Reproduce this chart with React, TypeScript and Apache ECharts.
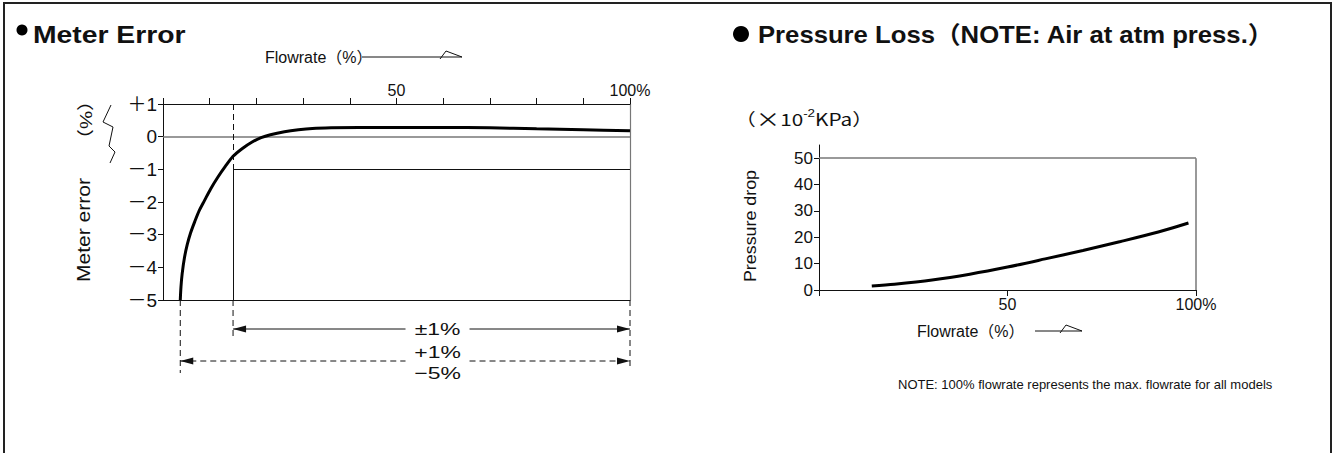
import React, { useEffect, useRef } from "react";
import * as echarts from "echarts";

const FONT = '"Liberation Sans", Arial, "Noto Sans CJK JP", sans-serif';
const CJK = '"Noto Sans CJK JP", "Liberation Sans", sans-serif';

// ---- Meter error chart data ----
const errFlow = [3.7, 3.85, 4.1, 4.6, 5.2, 5.9, 6.8, 7.8, 8.9, 10.2, 11.7, 13.3, 15, 17, 19, 21, 23, 26, 29, 32, 36, 42, 50, 60, 70, 80, 90, 100];
const errValue = [-5, -4.6, -4.2, -3.7, -3.3, -2.95, -2.6, -2.25, -1.95, -1.6, -1.25, -0.92, -0.6, -0.36, -0.17, -0.03, 0.06, 0.15, 0.21, 0.25, 0.27, 0.28, 0.28, 0.28, 0.27, 0.24, 0.21, 0.18];
const errYTicks = [1, 0, -1, -2, -3, -4, -5];
const errYLabels = ["＋1", "0", "－1", "－2", "－3", "－4", "－5"];
const errXTickValues = [50, 100];
const errXTickLabels = ["50", "100%"];
const accuracyStart = 15; // flowrate % where ±1% band begins
const accuracyLimit = -1;
const fullRangeStart = errFlow[0];
const fullRangeEnd = 100;
const dimLabels = ["±1%", "+1%", "−5%"];

// ---- Pressure loss chart data ----
const presFlow = [14, 20, 30, 40, 50, 60, 70, 80, 90, 98];
const presValue = [1.5, 2.2, 3.8, 6.0, 8.7, 11.8, 15.0, 18.4, 22.0, 25.4];
const presYTicks = [0, 10, 20, 30, 40, 50];
const presXTickValues = [50, 100];
const presXTickLabels = ["50", "100%"];
const presTop = 50;

const txt = (text: string, x: number, y: number, extra: any = {}) => {
  const { rotation, scaleX, ...style } = extra;
  return {
    type: "text",
    x,
    y,
    silent: true,
    rotation: rotation || 0,
    scaleX: scaleX || 1,
    style: {
      text,
      x: 0,
      y: 0,
      fill: "#111",
      fontFamily: FONT,
      fontSize: 16,
      verticalAlign: "middle",
      align: "left",
      ...style,
    },
  };
};

const seg = (x1: number, y1: number, x2: number, y2: number, dash?: number[], w = 1, color = "#111") => ({
  type: "line",
  silent: true,
  shape: { x1, y1, x2, y2 },
  style: { stroke: color, lineWidth: w, lineDash: dash || null },
});

const head = (tipX: number, y: number, dir: number) => ({
  type: "polygon",
  silent: true,
  shape: { points: [[tipX, y], [tipX + dir * 13, y - 3.5], [tipX + dir * 13, y + 3.5]] },
  style: { fill: "#111" },
});

const flowArrow = (x1: number, x2: number, y: number) => [
  seg(x1, y, x2, y, undefined, 1),
  {
    type: "polyline",
    silent: true,
    shape: { points: [[x2 - 22, y + 2], [x2 - 16, y - 6], [x2, y]] },
    style: { stroke: "#111", lineWidth: 1, fill: null },
  },
];

const axisTextStyle = { color: "#111", fontFamily: FONT, fontSize: 16 };

export default function App() {
  const ref = useRef<HTMLDivElement>(null);

  useEffect(() => {
    const chart = echarts.init(ref.current!, null, { renderer: "svg" });
    const option: any = {
      animation: false,
      backgroundColor: "#fff",
      grid: [
        { left: 163, top: 104, width: 467, height: 196 },
        { left: 819, top: 145, width: 377, height: 145 },
      ],
      xAxis: [
        {
          type: "value", gridIndex: 0, position: "top", min: 0, max: 100, interval: 10,
          axisLine: { show: true, onZero: false, lineStyle: { color: "#111", width: 1 } },
          axisTick: { show: true, length: 6, lineStyle: { color: "#111" } },
          axisLabel: {
            ...axisTextStyle, margin: 6,
            customValues: errXTickValues,
            formatter: (v: number) => errXTickLabels[errXTickValues.indexOf(v)] ?? "",
          },
          splitLine: { show: false },
        },
        {
          type: "value", gridIndex: 0, position: "bottom", min: 0, max: 100,
          axisLine: { show: true, onZero: false, lineStyle: { color: "#111", width: 1 } },
          axisTick: { show: false }, axisLabel: { show: false }, splitLine: { show: false },
        },
        {
          type: "value", gridIndex: 1, position: "bottom", min: 0, max: 100, interval: 50,
          axisLine: { show: true, onZero: false, lineStyle: { color: "#111", width: 1 } },
          axisTick: { show: true, length: 6, lineStyle: { color: "#111" } },
          axisLabel: {
            ...axisTextStyle, margin: 6,
            customValues: presXTickValues,
            formatter: (v: number) => presXTickLabels[presXTickValues.indexOf(v)] ?? "",
          },
          splitLine: { show: false },
        },
      ],
      yAxis: [
        {
          type: "value", gridIndex: 0, min: -5, max: 1, interval: 1,
          axisLine: { show: true, onZero: false, lineStyle: { color: "#111", width: 1 } },
          axisTick: { show: true, length: 5, lineStyle: { color: "#111" } },
          axisLabel: {
            ...axisTextStyle, fontSize: 19, margin: 6,
            formatter: (v: number) => errYLabels[errYTicks.indexOf(v)] ?? "",
          },
          splitLine: { show: false },
        },
        {
          type: "value", gridIndex: 0, position: "right", min: -5, max: 1,
          axisLine: { show: true, onZero: false, lineStyle: { color: "#777", width: 1.2 } },
          axisTick: { show: false }, axisLabel: { show: false }, splitLine: { show: false },
        },
        {
          type: "value", gridIndex: 1, min: 0, max: 55, interval: 10,
          axisLine: { show: true, onZero: false, lineStyle: { color: "#111", width: 1 } },
          axisTick: { show: true, length: 5, customValues: presYTicks, lineStyle: { color: "#111" } },
          axisLabel: {
            ...axisTextStyle, fontSize: 17, margin: 6, customValues: presYTicks,
            formatter: (v: number) => (presYTicks.indexOf(v) >= 0 ? String(v) : ""),
          },
          splitLine: { show: false },
        },
      ],
      series: [
        {
          type: "line", xAxisIndex: 0, yAxisIndex: 0, symbol: "none", smooth: 0.3,
          data: errFlow.map((f, i) => [f, errValue[i]]),
          lineStyle: { color: "#000", width: 3 },
          z: 5,
          markLine: {
            silent: true, symbol: "none", label: { show: false },
            lineStyle: { color: "#111", width: 1, type: "solid" },
            data: [
              { yAxis: 0, lineStyle: { color: "#777", width: 1.5, type: "solid" } },
              [{ coord: [accuracyStart, accuracyLimit] }, { coord: [100, accuracyLimit] }],
              [{ coord: [accuracyStart, accuracyLimit] }, { coord: [accuracyStart, -5] }],
              [
                { coord: [accuracyStart, 1], lineStyle: { type: [6, 4], color: "#111", width: 1 } },
                { coord: [accuracyStart, accuracyLimit] },
              ],
            ],
          },
        },
        {
          type: "line", xAxisIndex: 2, yAxisIndex: 2, symbol: "none", smooth: 0.3,
          data: presFlow.map((f, i) => [f, presValue[i]]),
          lineStyle: { color: "#000", width: 3 },
          markLine: {
            silent: true, symbol: "none", label: { show: false },
            lineStyle: { color: "#777", width: 1.5, type: "solid" },
            data: [
              { yAxis: presTop },
              [{ coord: [100, 0] }, { coord: [100, presTop] }],
            ],
          },
        },
      ],
    };
    chart.setOption(option);

    const p = (s: number, x: number, y: number) => chart.convertToPixel({ seriesIndex: s }, [x, y]) as number[];
    const [xStart, yBottom] = p(0, fullRangeStart, -5);
    const [xAcc] = p(0, accuracyStart, -5);
    const [xEnd] = p(0, fullRangeEnd, -5);
    const yArrow1 = yBottom + 29;
    const yArrow2 = yBottom + 61;
    const mid = (xAcc + xEnd) / 2 + 6;
    const gap = 32;
    const dimStyle = { align: "center", fontSize: 17, scaleX: 1.35 };

    const elements: any[] = [
      { type: "rect", silent: true, shape: { x: 4, y: 3, width: 1327, height: 480 }, style: { fill: null, stroke: "#222", lineWidth: 2 } },
      // titles
      { type: "circle", silent: true, shape: { cx: 22, cy: 30, r: 5.5 }, style: { fill: "#000" } },
      txt("Meter Error", 33, 35, { fontSize: 24, fontWeight: "bold", scaleX: 1.18 }),
      { type: "circle", silent: true, shape: { cx: 741, cy: 34, r: 8 }, style: { fill: "#000" } },
      txt("Pressure Loss（NOTE: Air at atm press.）", 758, 35, { fontSize: 24, fontWeight: "bold", scaleX: 1.07 }),
      // left chart labels
      txt("Flowrate（%）", 265, 57),
      ...flowArrow(362, 462, 57),
      txt("Meter error", 84, 230, { align: "center", fontSize: 18, scaleX: 1.17, rotation: Math.PI / 2 }),
      txt("（%）", 86, 120, { align: "center", fontSize: 17, scaleX: 1.2, rotation: Math.PI / 2 }),
      {
        type: "polyline", silent: true,
        shape: { points: [[111, 105], [103, 122], [113, 127], [109, 146], [115, 152], [110, 163]] },
        style: { stroke: "#111", lineWidth: 1, fill: null },
      },
      // dimension lines
      seg(xStart, yBottom, xStart, yArrow2 + 12, [6, 4]),
      seg(xAcc, yBottom, xAcc, yArrow1 + 10, [6, 4]),
      seg(xEnd, yBottom, xEnd, yArrow2 + 8, [6, 4]),
      seg(xAcc, yArrow1, mid - gap, yArrow1),
      seg(mid + gap, yArrow1, xEnd, yArrow1),
      head(xAcc, yArrow1, 1),
      head(xEnd, yArrow1, -1),
      txt(dimLabels[0], mid, yArrow1, dimStyle),
      seg(xStart, yArrow2, mid - gap, yArrow2, [6, 4]),
      seg(mid + gap, yArrow2, xEnd, yArrow2, [6, 4]),
      head(xStart, yArrow2, 1),
      head(xEnd, yArrow2, -1),
      txt(dimLabels[1], mid, yArrow2 - 9, dimStyle),
      txt(dimLabels[2], mid, yArrow2 + 12, dimStyle),
      // right chart labels
      {
        type: "text", silent: true, x: 735, y: 118, scaleX: 1.22,
        style: {
          text: "{a|（}{x|×}{a|10}{s|-2}{a|KPa）}", x: 0, y: 0, verticalAlign: "middle", align: "left",
          rich: {
            a: { fontSize: 17, fontFamily: CJK, fill: "#111", color: "#111" },
            x: { fontSize: 20, fontFamily: CJK, fill: "#111", color: "#111" },
            s: { fontSize: 11, fontFamily: FONT, fill: "#111", color: "#111", verticalAlign: "top" },
          },
        },
      },
      txt("Pressure drop", 750, 226, { align: "center", fontSize: 17, scaleX: 1.05, rotation: Math.PI / 2 }),
      txt("Flowrate（%）", 917, 331),
      ...flowArrow(1035, 1082, 331),
      txt("NOTE: 100% flowrate represents the max. flowrate for all models", 898, 384, { fontSize: 13 }),
    ];
    chart.setOption({ graphic: { elements } });
    return () => chart.dispose();
  }, []);

  return <div ref={ref} style={{ position: "absolute", left: 0, top: 0, width: 1336, height: 453 }} />;
}
